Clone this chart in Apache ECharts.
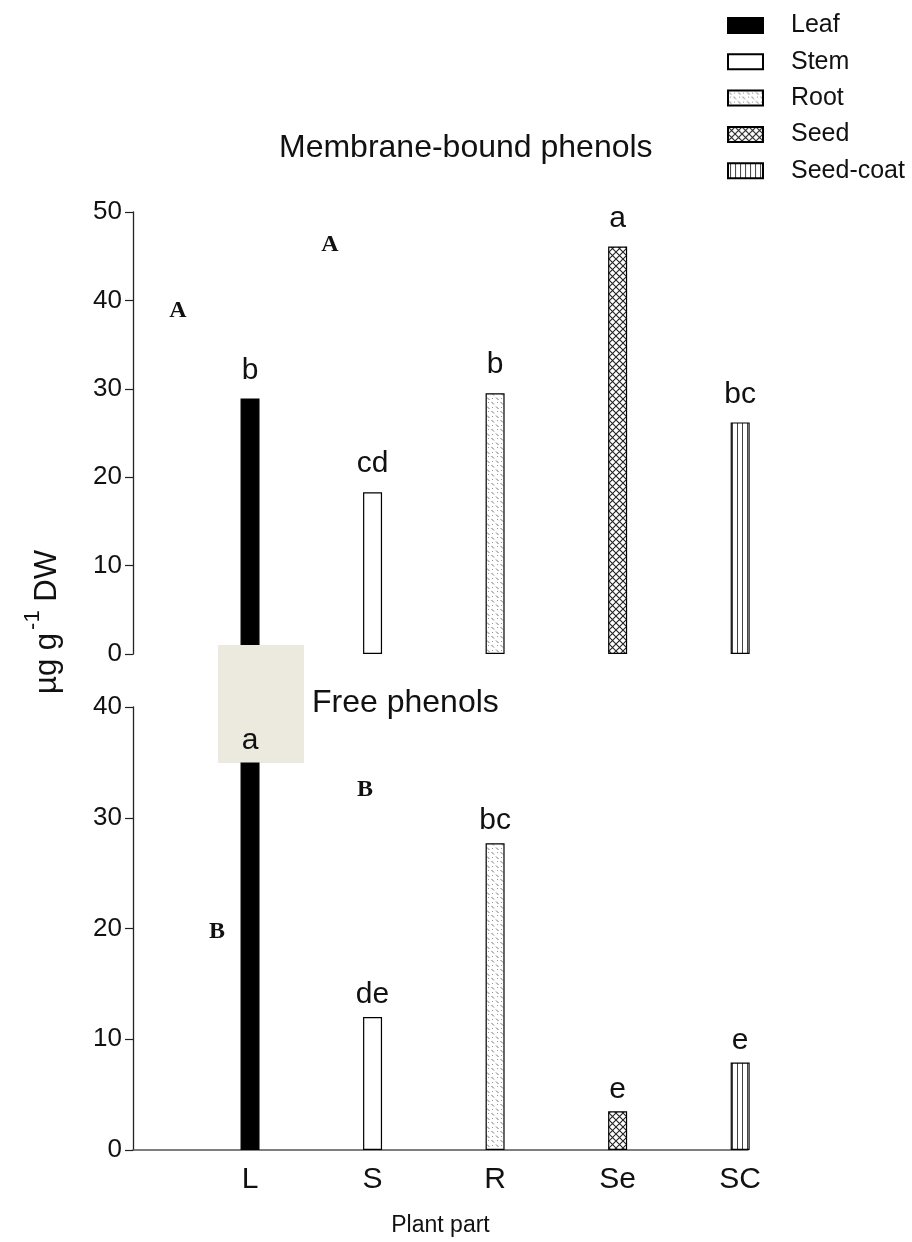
<!DOCTYPE html>
<html>
<head>
<meta charset="utf-8">
<script src="https://cdn.jsdelivr.net/npm/echarts@6/dist/echarts.min.js"></script>
<style>
  html, body { margin: 0; padding: 0; background: #fff; }
  #chart { width: 912px; height: 1242px; }
</style>
</head>
<body>
<div id="chart"></div>
<script>
// ---- data ----
const categories = ['L', 'S', 'R', 'Se', 'SC'];
const partNames = ['Leaf', 'Stem', 'Root', 'Seed', 'Seed-coat'];
const membraneBound = [28.9, 18.3, 29.5, 46.1, 26.2];
const membraneLetters = ['b', 'cd', 'b', 'a', 'bc'];
const freePhenols = [35.0, 12.0, 27.7, 3.5, 7.9];
const freeLetters = ['a', 'de', 'bc', 'e', 'e'];
const membraneAxis = { min: 0, max: 50, step: 10 };
const freeAxis = { min: 0, max: 40, step: 10 };

const FONT = '"Liberation Sans", Arial, Helvetica, sans-serif';
const SERIF = '"Liberation Serif", "Times New Roman", serif';

function makePattern(w, h, draw) {
  const c = document.createElement('canvas');
  c.width = w; c.height = h;
  const ctx = c.getContext('2d');
  ctx.fillStyle = '#fff';
  ctx.fillRect(0, 0, w, h);
  draw(ctx);
  return { image: c, repeat: 'repeat' };
}
const rootPattern = makePattern(9, 9, ctx => {
  ctx.strokeStyle = '#777';
  ctx.lineWidth = 1;
  ctx.beginPath();
  ctx.moveTo(1, 1.5); ctx.lineTo(3.5, 4);
  ctx.moveTo(5.5, 6); ctx.lineTo(8, 8.5);
  ctx.stroke();
  ctx.fillStyle = '#999';
  ctx.fillRect(6, 2, 1, 1);
  ctx.fillRect(2, 6, 1, 1);
});
const seedPattern = makePattern(7, 7, ctx => {
  ctx.strokeStyle = '#222';
  ctx.lineWidth = 1.1;
  ctx.beginPath();
  ctx.moveTo(0, 0); ctx.lineTo(7, 7);
  ctx.moveTo(7, 0); ctx.lineTo(0, 7);
  ctx.stroke();
});
const coatPattern = makePattern(5, 4, ctx => {
  ctx.fillStyle = '#444';
  ctx.fillRect(2, 0, 1, 4);
});
const fills = ['#000', '#fff', rootPattern, seedPattern, coatPattern];

function buildSeries(values, letters, axisIndex, z, labelGap) {
  return partNames.map((name, i) => ({
    name: name,
    type: 'bar',
    xAxisIndex: axisIndex,
    yAxisIndex: axisIndex,
    z: z,
    barWidth: 19,
    barGap: '-100%',
    itemStyle: { color: fills[i], borderColor: '#000', borderWidth: 1.2 },
    label: {
      show: true,
      position: 'top',
      distance: labelGap,
      fontFamily: FONT,
      fontSize: 30,
      color: '#111',
      formatter: () => letters[i]
    },
    emphasis: { disabled: true },
    data: [[i + 1, values[i]]]
  }));
}

const xMin = 0.045, xMax = 5.064;

const option = {
  animation: false,
  backgroundColor: '#fff',
  textStyle: { fontFamily: FONT },
  title: [
    { text: 'Membrane-bound phenols', left: 274, top: 127,
      textStyle: { fontFamily: FONT, fontSize: 32, fontWeight: 'normal', color: '#111' } }
  ],
  legend: {
    orient: 'vertical',
    left: 722, top: 8,
    itemWidth: 35, itemHeight: 15, itemGap: 11.3,
    icon: 'rect',
    data: partNames,
    selectedMode: false,
    textStyle: { fontFamily: FONT, fontSize: 25, color: '#111', lineHeight: 25, padding: [0, 0, 0, 23] }
  },
  grid: [
    { left: 133, top: 212, width: 615, height: 442 },
    { left: 133, top: 707, width: 615, height: 443 }
  ],
  xAxis: [
    { gridIndex: 0, type: 'value', min: xMin, max: xMax,
      axisLine: { show: false }, axisTick: { show: false },
      axisLabel: { show: false }, splitLine: { show: false } },
    { gridIndex: 1, type: 'value', min: xMin, max: xMax,
      axisLine: { show: true, onZero: false, lineStyle: { color: '#555', width: 1.5 } },
      axisTick: { show: false },
      splitLine: { show: false },
      axisLabel: {
        customValues: [1, 2, 3, 4, 5],
        formatter: v => categories[Math.round(v) - 1] || '',
        fontFamily: FONT, fontSize: 30, color: '#111', margin: 15
      },
      name: 'Plant part', nameLocation: 'middle', nameGap: 64,
      nameTextStyle: { fontFamily: FONT, fontSize: 23, color: '#111' } }
  ],
  yAxis: [
    { gridIndex: 0, type: 'value', min: membraneAxis.min, max: membraneAxis.max, interval: membraneAxis.step,
      axisLine: { show: true, lineStyle: { color: '#222', width: 1.3 } },
      axisTick: { show: true, length: 8, lineStyle: { color: '#222', width: 1.2 } },
      axisLabel: { fontFamily: FONT, fontSize: 26, color: '#111', margin: 11 },
      splitLine: { show: false } },
    { gridIndex: 1, type: 'value', min: freeAxis.min, max: freeAxis.max, interval: freeAxis.step,
      axisLine: { show: true, lineStyle: { color: '#222', width: 1.3 } },
      axisTick: { show: true, length: 8, lineStyle: { color: '#222', width: 1.2 } },
      axisLabel: { fontFamily: FONT, fontSize: 26, color: '#111', margin: 11 },
      splitLine: { show: false } }
  ],
  graphic: [
    { type: 'rect', z: 3, shape: { x: 218, y: 645, width: 86, height: 118 },
      style: { fill: '#ECEADF' } },
    { type: 'text', z: 5, left: 312, top: 687,
      style: { text: 'Free phenols', fontFamily: FONT, fontSize: 32, fill: '#111' } },
    { type: 'text', z: 5, x: 47, y: 622, rotation: Math.PI / 2,
      style: {
        text: '{a|µg g}{s|-1}{a| DW}',
        align: 'center', verticalAlign: 'middle',
        rich: {
          a: { fontFamily: FONT, fontSize: 31, fill: '#111', color: '#111' },
          s: { fontFamily: FONT, fontSize: 22, fill: '#111', color: '#111', padding: [0, 0, 28, 3] }
        }
      } },
    { type: 'text', z: 5, x: 330, y: 245,
      style: { text: 'A', fontFamily: SERIF, fontWeight: 'bold', fontSize: 24, fill: '#111', align: 'center', verticalAlign: 'middle' } },
    { type: 'text', z: 5, x: 178, y: 311,
      style: { text: 'A', fontFamily: SERIF, fontWeight: 'bold', fontSize: 24, fill: '#111', align: 'center', verticalAlign: 'middle' } },
    { type: 'text', z: 5, x: 365, y: 790,
      style: { text: 'B', fontFamily: SERIF, fontWeight: 'bold', fontSize: 24, fill: '#111', align: 'center', verticalAlign: 'middle' } },
    { type: 'text', z: 5, x: 217, y: 932,
      style: { text: 'B', fontFamily: SERIF, fontWeight: 'bold', fontSize: 24, fill: '#111', align: 'center', verticalAlign: 'middle' } }
  ],
  series: [].concat(
    buildSeries(membraneBound, membraneLetters, 0, 2, 13),
    buildSeries(freePhenols, freeLetters, 1, 4, 7)
  )
};

const chart = echarts.init(document.getElementById('chart'), null, { renderer: 'canvas' });
chart.setOption(option);
</script>
</body>
</html>
